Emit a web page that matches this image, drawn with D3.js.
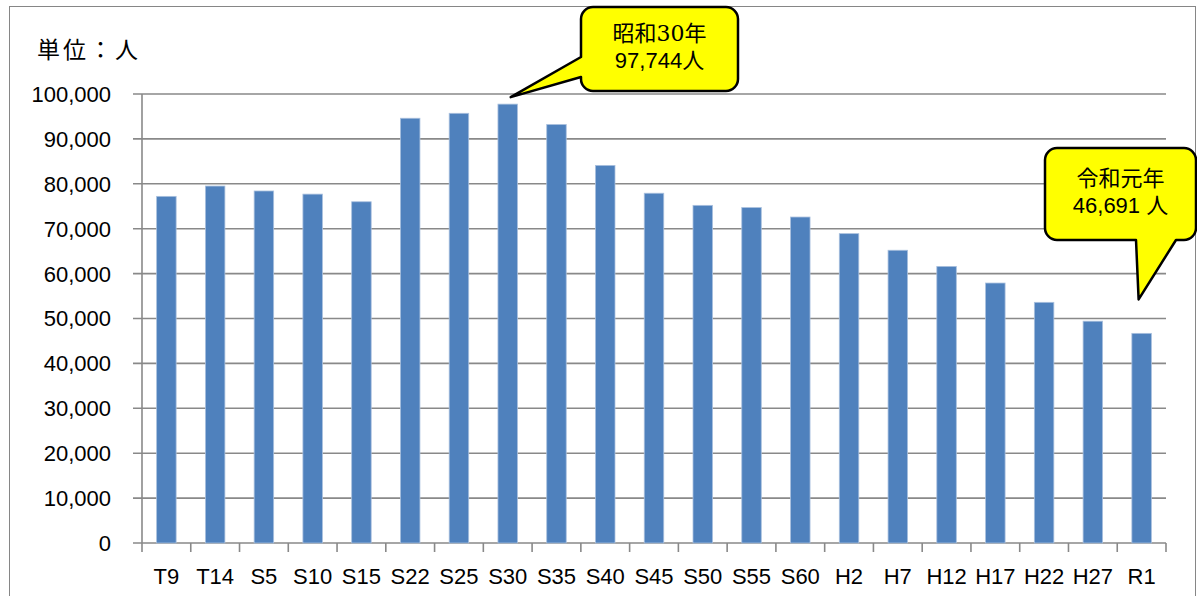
<!DOCTYPE html>
<html lang="ja">
<head>
<meta charset="utf-8">
<script src="https://cdn.jsdelivr.net/npm/d3@7"></script>
<style>
  html, body { margin: 0; padding: 0; background: #fff; }
  svg { display: block; }
  text { font-family: 'Liberation Sans', Arial, 'Noto Sans CJK JP', sans-serif; fill: #000; }
</style>
</head>
<body>
<svg width="1197" height="596"></svg>
<script>
// 年次（大正・昭和・平成・令和）
const years = ['T9', 'T14', 'S5', 'S10', 'S15', 'S22', 'S25', 'S30', 'S35', 'S40', 'S45',
               'S50', 'S55', 'S60', 'H2', 'H7', 'H12', 'H17', 'H22', 'H27', 'R1'];
// 人口（人）
const population = [77200, 79500, 78400, 77700, 76000, 94600, 95700, 97744, 93200, 84100, 77900,
                     75200, 74700, 72600, 68900, 65200, 61600, 57900, 53600, 49400, 46691];
const yTicks = [0, 10000, 20000, 30000, 40000, 50000, 60000, 70000, 80000, 90000, 100000];
const unitLabel = '単位：人';
const peakYear = 'S30';
const peakLabel = ['昭和30年', '97,744人'];
const latestYear = 'R1';
const latestLabel = ['令和元年', '46,691 人'];

let svg = d3.select('svg');
const W = 1197, H = 596;

// 外枠
svg.append('rect')
  .attr('x', 9.5).attr('y', 6.5)
  .attr('width', 1186).attr('height', 600)
  .attr('fill', '#fff').attr('stroke', '#868686').attr('stroke-width', 1);

let x = d3.scaleBand()
  .domain(years)
  .range([142, 1166])
  .paddingInner(0.6)
  .paddingOuter(0.3);

let y = d3.scaleLinear()
  .domain([0, 100000])
  .range([543, 94]);

// 目盛線
svg.append('g').selectAll('line')
  .data(yTicks)
  .enter().append('line')
  .attr('x1', 133).attr('x2', 1166)
  .attr('y1', d => y(d)).attr('y2', d => y(d))
  .attr('stroke', '#898989').attr('stroke-width', 1.6);

svg.append('g').selectAll('text')
  .data(yTicks)
  .enter().append('text')
  .attr('x', 111)
  .attr('y', d => y(d))
  .attr('dy', '0.36em')
  .attr('text-anchor', 'end')
  .attr('font-size', 22)
  .text(d => d3.format(',')(d));

// 縦軸
svg.append('line')
  .attr('x1', 142).attr('x2', 142)
  .attr('y1', y(100000)).attr('y2', y(0))
  .attr('stroke', '#898989').attr('stroke-width', 1.6);

// 棒
svg.append('g').selectAll('rect')
  .data(population)
  .enter().append('rect')
  .attr('x', (d, i) => x(years[i]))
  .attr('y', d => y(d))
  .attr('width', x.bandwidth())
  .attr('height', d => y(0) - y(d))
  .attr('fill', '#4f81bd')
  .attr('stroke', '#a9c0de')
  .attr('stroke-width', 0.8);

// 横軸の目盛
let bounds = d3.range(years.length + 1).map(i => x.range()[0] + i * x.step());
svg.append('g').selectAll('line')
  .data(bounds)
  .enter().append('line')
  .attr('x1', d => d).attr('x2', d => d)
  .attr('y1', y(0)).attr('y2', y(0) + 9)
  .attr('stroke', '#898989').attr('stroke-width', 1.6);

svg.append('g').selectAll('text')
  .data(years)
  .enter().append('text')
  .attr('x', d => x(d) + x.bandwidth() / 2)
  .attr('y', 576)
  .attr('dy', '0.36em')
  .attr('text-anchor', 'middle')
  .attr('font-size', 22)
  .text(d => d);

svg.append('text')
  .attr('x', 37).attr('y', 50)
  .attr('dy', '0.36em')
  .attr('font-size', 23)
  .attr('letter-spacing', 3)
  .text(unitLabel);

// 吹き出し
function calloutPath(b, side, t0, t1, tip) {
  const p = d3.path(), r = 12;
  const x0 = b.x, y0 = b.y, x1 = b.x + b.w, y1 = b.y + b.h;
  p.moveTo(x0 + r, y0);
  p.arcTo(x1, y0, x1, y1, r);
  p.arcTo(x1, y1, x0, y1, r);
  if (side === 'bottom') {
    p.lineTo(x0 + t1, y1);
    p.lineTo(tip[0], tip[1]);
    p.lineTo(x0 + t0, y1);
  }
  p.arcTo(x0, y1, x0, y0, r);
  if (side === 'left') {
    p.lineTo(x0, y0 + t1);
    p.lineTo(tip[0], tip[1]);
    p.lineTo(x0, y0 + t0);
  }
  p.arcTo(x0, y0, x1, y0, r);
  p.closePath();
  return p.toString();
}

function callout(box, side, t0, t1, tip, lines, lineY) {
  let g = svg.append('g');
  g.append('path')
    .attr('d', calloutPath(box, side, t0, t1, tip))
    .attr('fill', '#ffff00')
    .attr('stroke', '#000')
    .attr('stroke-width', 2.5)
    .attr('stroke-linejoin', 'round');
  lines.forEach((s, i) => {
    let t = g.append('text')
      .attr('x', box.x + box.w / 2)
      .attr('y', box.y + lineY[i])
      .attr('dy', '0.36em')
      .attr('text-anchor', 'middle')
      .attr('font-size', 22);
    // 1行目の数字は明朝風
    s.split(/(\d+)/).filter(p => p !== '').forEach(part => {
      let ts = t.append('tspan').text(part);
      if (i === 0 && /\d/.test(part)) ts.style('font-family', "'DejaVu Serif', 'Liberation Serif', serif");
    });
  });
}

let peakIdx = years.indexOf(peakYear);
callout({ x: 581, y: 7, w: 157, h: 84 }, 'left', 50, 70,
  [x(peakYear) + x.bandwidth() / 2 + 3, y(population[peakIdx]) - 7],
  peakLabel, [26, 53]);

let lastIdx = years.indexOf(latestYear);
callout({ x: 1045, y: 148, w: 151, h: 92 }, 'bottom', 91, 131,
  [x(latestYear) + x.bandwidth() / 2 - 3, y(population[lastIdx]) - 34],
  latestLabel, [30, 57]);
</script>
</body>
</html>
